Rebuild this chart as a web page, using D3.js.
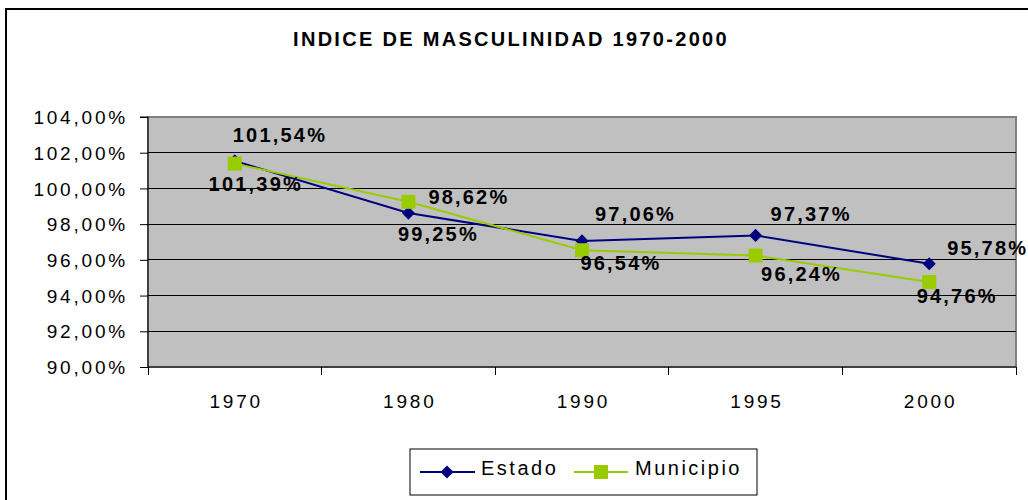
<!DOCTYPE html>
<html><head><meta charset="utf-8">
<script src="https://cdn.jsdelivr.net/npm/d3@7"></script>
<style>
html,body{margin:0;padding:0;background:#fff;}
svg{display:block;font-family:Arial,"Liberation Sans",sans-serif;}
</style></head>
<body>
<svg id="chart" width="1028" height="500"></svg>
<script>
const title = "INDICE DE MASCULINIDAD 1970-2000";
const categories = ["1970","1980","1990","1995","2000"];
const estado = [101.54, 98.62, 97.06, 97.37, 95.78];
const municipio = [101.39, 99.25, 96.54, 96.24, 94.76];
const yTicks = [90, 92, 94, 96, 98, 100, 102, 104];
const seriesNames = ["Estado", "Municipio"];
// manual label nudges (px) as placed in the original chart
const estadoLabelNudge = [[-2,-26],[20,-16],[13,-27],[15,-21],[18,-16]];
const municipioLabelNudge = [[20,20],[29,32],[38,13],[45,18],[27,14]];

const fmt = v => v.toFixed(2).replace(".", ",") + "%";

const svg = d3.select("#chart");
const m = {left:148, right:1016, top:117, bottom:367};

// outer border
svg.append("rect").attr("x",6).attr("y",9).attr("width",1040).attr("height",520)
  .attr("fill","#fff").attr("stroke","#000").attr("stroke-width",2);

const x = d3.scaleBand().domain(categories).range([m.left, m.right]);
const y = d3.scaleLinear().domain([90,104]).range([m.bottom, m.top]);

// plot area
svg.append("rect").attr("x",m.left).attr("y",m.top)
  .attr("width",m.right-m.left).attr("height",m.bottom-m.top)
  .attr("fill","#C0C0C0").attr("stroke","#808080").attr("stroke-width",2);

// gridlines
svg.append("g").selectAll("line").data(yTicks.filter(t=>t>90 && t<104)).join("line")
  .attr("x1",m.left).attr("x2",m.right)
  .attr("y1",d=>y(d)).attr("y2",d=>y(d))
  .attr("stroke","#000").attr("stroke-width",1).attr("shape-rendering","crispEdges");

// y axis
const yAxis = d3.axisLeft(y).tickValues(yTicks).tickFormat(fmt).tickSize(8).tickPadding(12);
const gy = svg.append("g").attr("transform",`translate(${m.left},0)`).call(yAxis);
gy.select(".domain").attr("stroke","#000").attr("d",`M-8,${m.top}H0V${m.bottom}`);
gy.selectAll(".tick line").attr("stroke","#000");
gy.selectAll("text").attr("font-size",19).attr("fill","#000")
  .attr("letter-spacing","2.8px").attr("font-family","Arial, 'Liberation Sans', sans-serif")
  .attr("dy","0.35em");

// x axis
const xAxis = d3.axisBottom(x).tickSize(0).tickPadding(28);
const gx = svg.append("g").attr("transform",`translate(0,${m.bottom})`).call(xAxis);
gx.select(".domain").attr("stroke","#000").attr("d",`M${m.left},0H${m.right}`);
gx.selectAll("text").attr("font-size",19).attr("fill","#000")
  .attr("letter-spacing","2.8px").attr("dx","1.4px")
  .attr("font-family","Arial, 'Liberation Sans', sans-serif");
// category boundary ticks
const bounds = categories.map(c=>x(c)).concat([m.right]);
svg.append("g").selectAll("line").data(bounds).join("line")
  .attr("x1",d=>d).attr("x2",d=>d).attr("y1",m.bottom).attr("y2",m.bottom+8)
  .attr("stroke","#000").attr("shape-rendering","crispEdges");

const cx = c => x(c) + x.bandwidth()/2;
const line = d3.line().x((d,i)=>cx(categories[i])).y(d=>y(d));

svg.append("path").datum(estado).attr("d",line).attr("fill","none")
  .attr("stroke","#000080").attr("stroke-width",2);
svg.append("path").datum(municipio).attr("d",line).attr("fill","none")
  .attr("stroke","#99CC00").attr("stroke-width",2);

const diamond = d3.symbol().type(d3.symbolDiamond2).size(110);
svg.append("g").selectAll("path").data(estado).join("path")
  .attr("d",diamond)
  .attr("transform",(d,i)=>`translate(${cx(categories[i])},${y(d)})`)
  .attr("fill","#000080");
svg.append("g").selectAll("rect").data(municipio).join("rect")
  .attr("x",(d,i)=>cx(categories[i])-7).attr("y",d=>y(d)-7)
  .attr("width",14).attr("height",14).attr("fill","#99CC00");

// data labels
const lblStyle = s => s.attr("font-size",20).attr("font-weight","bold").attr("fill","#000")
  .attr("letter-spacing","2.2px");
svg.append("g").selectAll("text").data(estado).join("text")
  .attr("x",(d,i)=>cx(categories[i])+estadoLabelNudge[i][0])
  .attr("y",(d,i)=>y(d)+estadoLabelNudge[i][1])
  .attr("dy","0.35em").text(fmt).call(lblStyle);
svg.append("g").selectAll("text").data(municipio).join("text")
  .attr("x",(d,i)=>cx(categories[i])+municipioLabelNudge[i][0]+1)
  .attr("y",(d,i)=>y(d)+municipioLabelNudge[i][1])
  .attr("text-anchor","middle").attr("dy","0.35em").text(fmt).call(lblStyle);

// title
svg.append("text").attr("x",511).attr("y",39).attr("text-anchor","middle")
  .attr("dy","0.35em").attr("font-size",20).attr("font-weight","bold")
  .attr("letter-spacing","2.3px").text(title);

// legend
const lg = svg.append("g");
lg.append("rect").attr("x",410).attr("y",449).attr("width",347).attr("height",46)
  .attr("fill","#fff").attr("stroke","#000").attr("stroke-width",1);
lg.append("line").attr("x1",420).attr("x2",475).attr("y1",472).attr("y2",472)
  .attr("stroke","#000080").attr("stroke-width",2);
lg.append("path").attr("d",diamond).attr("transform","translate(447,472)").attr("fill","#000080");
lg.append("text").attr("x",481).attr("y",468).attr("dy","0.35em").attr("font-size",20)
  .attr("letter-spacing","2.5px").text(seriesNames[0]);
lg.append("line").attr("x1",574).attr("x2",628).attr("y1",472).attr("y2",472)
  .attr("stroke","#99CC00").attr("stroke-width",2);
lg.append("rect").attr("x",594).attr("y",465).attr("width",14).attr("height",14).attr("fill","#99CC00");
lg.append("text").attr("x",635).attr("y",468).attr("dy","0.35em").attr("font-size",20)
  .attr("letter-spacing","2.5px").text(seriesNames[1]);
</script>
</body></html>
